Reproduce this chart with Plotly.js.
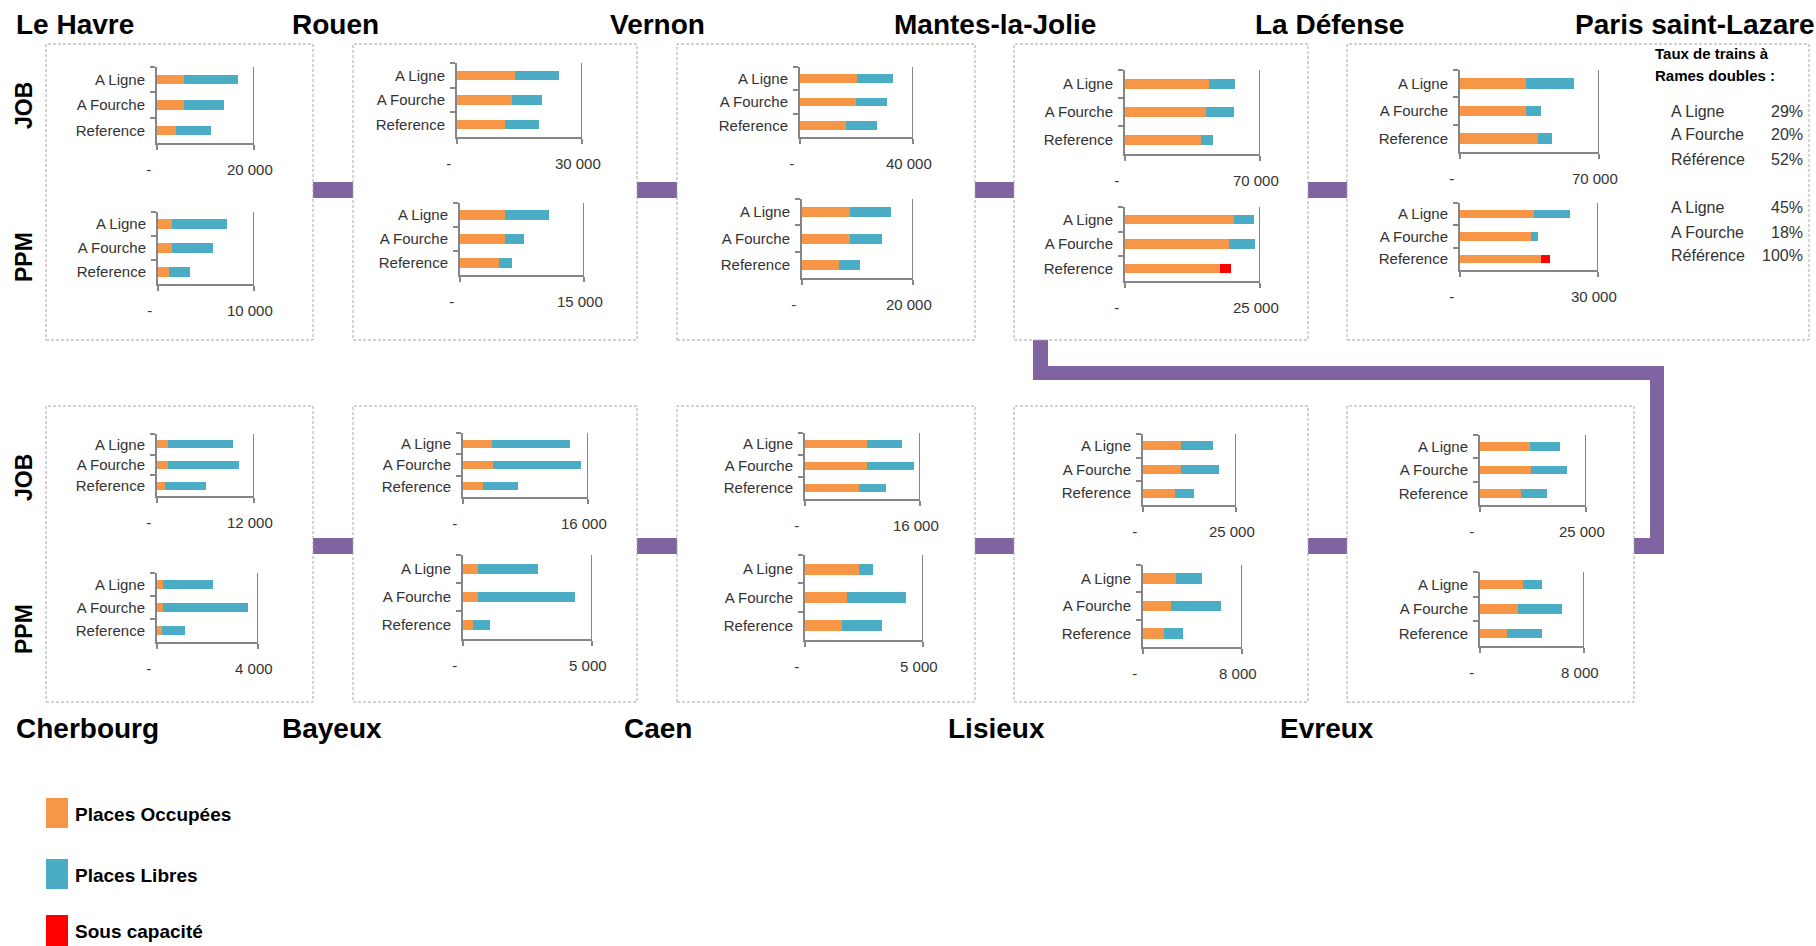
<!DOCTYPE html>
<html>
<head>
<meta charset="utf-8">
<script src="https://cdn.plot.ly/plotly-3.0.1.min.js"></script>
<style>
  html, body { margin: 0; padding: 0; background: #ffffff; }
  #chart { width: 1816px; height: 946px; }
</style>
</head>
<body>
<div id="chart"></div>
<script>
  const categories = ["A Ligne", "A Fourche", "Reference"];
  const topStations = ["Le Havre", "Rouen", "Vernon", "Mantes-la-Jolie", "La Défense", "Paris saint-Lazare"];
  const bottomStations = ["Cherbourg", "Bayeux", "Caen", "Lisieux", "Evreux"];
  const rowNames = ["JOB", "PPM"];

  // segments: top row left->right, then bottom row left->right
  const segments = [
    "Le Havre - Rouen", "Rouen - Vernon", "Vernon - Mantes", "Mantes - La Défense", "La Défense - Paris",
    "Cherbourg - Bayeux", "Bayeux - Caen", "Caen - Lisieux", "Lisieux - Evreux", "Evreux - Mantes"
  ];

  const jobMax = [20000, 30000, 40000, 70000, 70000, 12000, 16000, 16000, 25000, 25000];
  const ppmMax = [10000, 15000, 20000, 25000, 30000, 4000, 5000, 5000, 8000, 8000];

  // [A Ligne, A Fourche, Reference]
  const jobOccupied = [
    [5500, 5500, 3900], [13800, 13200, 11600], [20200, 19700, 16300], [43700, 42000, 39200], [33100, 33100, 39200],
    [1400, 1400, 1000], [3700, 3800, 2600], [8600, 8600, 7500], [10100, 10200, 8500], [11800, 12000, 9700]
  ];
  const jobFree = [
    [11300, 8400, 7200], [10700, 7200, 8100], [12800, 11200, 11000], [13500, 14500, 6400], [24100, 7800, 6900],
    [8000, 8800, 5100], [10000, 11300, 4500], [4900, 6500, 3800], [8600, 10200, 5300], [7000, 8500, 6100]
  ];
  const jobUnder = [
    [0, 0, 0], [0, 0, 0], [0, 0, 0], [0, 0, 0], [0, 0, 0],
    [0, 0, 0], [0, 0, 0], [0, 0, 0], [0, 0, 0], [0, 0, 0]
  ];
  const ppmOccupied = [
    [1500, 1500, 1100], [5500, 5400, 4700], [8700, 8700, 6700], [20200, 19300, 17500], [16100, 15400, 17500],
    [250, 250, 200], [590, 590, 400], [2300, 1800, 1550], [2700, 2300, 1700], [3300, 2900, 2100]
  ];
  const ppmFree = [
    [5700, 4200, 2200], [5300, 2400, 1600], [7400, 5800, 3800], [3700, 4800, 0], [7800, 1500, 0],
    [1950, 3350, 900], [2300, 3750, 650], [600, 2500, 1700], [2100, 4000, 1550], [1500, 3400, 2700]
  ];
  const ppmUnder = [
    [0, 0, 0], [0, 0, 0], [0, 0, 0], [0, 0, 2200], [0, 0, 2100],
    [0, 0, 0], [0, 0, 0], [0, 0, 0], [0, 0, 0], [0, 0, 0]
  ];

  const doubleRateTitle = ["Taux de trains à", "Rames doubles :"];
  const doubleRateLabels = ["A Ligne", "A Fourche", "Référence"];
  const doubleRateJob = ["29%", "20%", "52%"];
  const doubleRatePpm = ["45%", "18%", "100%"];

  const legendLabels = ["Places Occupées", "Places Libres", "Sous capacité"];

  const COLORS = {
    occupied: "#F79646",
    free: "#4BACC6",
    under: "#FF0000",
    axis: "#868686",
    text: "#333333",
    route: "#8064A2",
    box: "#A6A6A6"
  };

  const W = 1816;
  const H = 946;
  const fx = (x) => x / W;
  const fy = (y) => 1 - y / H;

  // pixel geometry of each small plot: [x of 0, x of max, top, bottom]
  const plotGeom = [
    { job: [157, 254, 67, 143], ppm: [158, 254, 212, 284] },
    { job: [457, 582, 63, 137], ppm: [460, 584, 203, 275] },
    { job: [800, 913, 67, 137], ppm: [802, 913, 199, 278] },
    { job: [1125, 1260, 70, 154], ppm: [1125, 1260, 207, 281] },
    { job: [1460, 1599, 70, 152], ppm: [1460, 1598, 203, 270] },
    { job: [157, 254, 434, 496], ppm: [157, 258, 573, 642] },
    { job: [463, 588, 433, 497], ppm: [463, 592, 555, 639] },
    { job: [805, 920, 433, 499], ppm: [805, 923, 555, 640] },
    { job: [1143, 1236, 434, 505], ppm: [1143, 1242, 565, 647] },
    { job: [1480, 1586, 435, 505], ppm: [1480, 1584, 572, 646] }
  ];

  const boxes = [
    [46, 44, 313, 340], [353, 44, 637, 340], [677, 44, 975, 340], [1014, 44, 1308, 340], [1347, 44, 1809, 340],
    [46, 406, 313, 702], [353, 406, 637, 702], [677, 406, 975, 702], [1014, 406, 1308, 702], [1347, 406, 1634, 702]
  ];

  const routeRects = [
    [313, 182, 353, 198], [637, 182, 677, 198], [975, 182, 1014, 198], [1308, 182, 1347, 198],
    [313, 538, 353, 554], [637, 538, 677, 554], [975, 538, 1014, 554], [1308, 538, 1347, 554],
    [1634, 538, 1664, 554],
    [1033, 340, 1048, 380], [1033, 366, 1664, 380], [1650, 366, 1664, 554]
  ];

  function fmtThousands(v) {
    return String(v).replace(/\B(?=(\d{3})+(?!\d))/g, " ");
  }

  const traces = [];
  const layout = {
    width: W,
    height: H,
    margin: { l: 0, r: 0, t: 0, b: 0 },
    paper_bgcolor: "#ffffff",
    plot_bgcolor: "rgba(0,0,0,0)",
    barmode: "stack",
    bargap: 0.62,
    showlegend: false,
    font: { family: "Liberation Sans, Arial, sans-serif", color: COLORS.text, size: 14 },
    shapes: [],
    annotations: []
  };

  let n = 0;
  segments.forEach((seg, s) => {
    [["job", jobMax, jobOccupied, jobFree, jobUnder], ["ppm", ppmMax, ppmOccupied, ppmFree, ppmUnder]].forEach(
      ([key, maxArr, occ, free, under]) => {
        n += 1;
        const suffix = n === 1 ? "" : String(n);
        const g = plotGeom[s][key];
        const xr = "x" + suffix;
        const yr = "y" + suffix;

        const series = [
          [occ[s], COLORS.occupied, legendLabels[0]],
          [under[s], COLORS.under, legendLabels[2]],
          [free[s], COLORS.free, legendLabels[1]]
        ];
        series.forEach(([vals, color, name]) => {
          traces.push({
            type: "bar",
            orientation: "h",
            x: vals,
            y: categories,
            xaxis: xr,
            yaxis: yr,
            name: name,
            marker: { color: color, line: { width: 0 } },
            hovertemplate: `${seg} ${key.toUpperCase()}<br>%{y}: %{x}<extra>${name}</extra>`
          });
        });

        const maxV = maxArr[s];
        layout["xaxis" + suffix] = {
          domain: [fx(g[0]), fx(g[1])],
          anchor: yr,
          range: [0, maxV],
          showgrid: false,
          zeroline: false,
          showline: true,
          linecolor: COLORS.axis,
          linewidth: 2,
          ticks: "outside",
          ticklen: 5,
          tickwidth: 2,
          tickcolor: COLORS.axis,
          tickmode: "array",
          tickvals: [0, maxV],
          ticktext: ["-\u00a0\u00a0\u00a0\u00a0", fmtThousands(maxV) + "\u00a0\u00a0"],
          ticklabelstandoff: 7,
          tickfont: { size: 15, color: COLORS.text },
          fixedrange: true
        };
        layout["yaxis" + suffix] = {
          domain: [fy(g[3]), fy(g[2])],
          anchor: xr,
          type: "category",
          categoryorder: "array",
          categoryarray: categories,
          autorange: "reversed",
          showgrid: false,
          zeroline: false,
          showline: true,
          linecolor: COLORS.axis,
          linewidth: 2,
          ticks: "outside",
          tickson: "boundaries",
          ticklen: 5,
          tickwidth: 2,
          tickcolor: COLORS.axis,
          ticklabelstandoff: 7,
          tickfont: { size: 15, color: COLORS.text },
          fixedrange: true
        };

        // vertical line at the axis maximum
        layout.shapes.push({
          type: "line",
          xref: xr,
          yref: yr + " domain",
          x0: maxV,
          x1: maxV,
          y0: 0,
          y1: 1,
          line: { color: COLORS.axis, width: 2 },
          layer: "above"
        });
      }
    );
  });

  routeRects.forEach(([x0, y0, x1, y1]) => {
    layout.shapes.push({
      type: "rect", xref: "paper", yref: "paper",
      x0: fx(x0), x1: fx(x1), y0: fy(y1), y1: fy(y0),
      fillcolor: COLORS.route, line: { width: 0 }, layer: "below"
    });
  });

  boxes.forEach(([x0, y0, x1, y1]) => {
    layout.shapes.push({
      type: "rect", xref: "paper", yref: "paper",
      x0: fx(x0), x1: fx(x1), y0: fy(y1), y1: fy(y0),
      fillcolor: "#ffffff",
      line: { color: COLORS.box, width: 1, dash: "3px,2px" },
      layer: "below"
    });
  });

  function addText(text, x, y, opts = {}) {
    layout.annotations.push({
      text: text,
      xref: "paper",
      yref: "paper",
      x: fx(x),
      y: fy(y),
      xanchor: opts.xanchor || "left",
      yanchor: "middle",
      showarrow: false,
      textangle: opts.angle || 0,
      font: {
        size: opts.size || 14,
        color: opts.color || "#000000",
        family: "Liberation Sans, Arial, sans-serif",
        weight: opts.bold ? 700 : 400
      }
    });
  }

  const topTitleX = [14, 290, 608, 892, 1253, 1573];
  const bottomTitleX = [14, 280, 622, 946, 1278];
  topStations.forEach((name, i) => addText(name, topTitleX[i], 25, { size: 28, bold: true }));
  bottomStations.forEach((name, i) => addText(name, bottomTitleX[i], 728, { size: 28, bold: true }));

  const rowLabelY = [106, 257, 478, 629];
  rowLabelY.forEach((y, i) => addText(rowNames[i % 2], 24, y, { size: 23, bold: true, angle: -90, xanchor: "center" }));

  doubleRateTitle.forEach((t, i) => addText(t, 1653, 54 + i * 21, { size: 15, bold: true }));
  const rateRowsY = [111, 135, 159, 207, 232, 256];
  doubleRateLabels.concat(doubleRateLabels).forEach((label, i) => {
    addText(label, 1669, rateRowsY[i], { size: 16, color: COLORS.text });
    const val = i < 3 ? doubleRateJob[i] : doubleRatePpm[i - 3];
    addText(val, 1805, rateRowsY[i], { size: 16, color: COLORS.text, xanchor: "right" });
  });

  const legendColors = [COLORS.occupied, COLORS.free, COLORS.under];
  const legendBoxes = [[798, 828], [859, 889], [915, 946]];
  legendLabels.forEach((label, i) => {
    const [y0, y1] = legendBoxes[i];
    layout.shapes.push({
      type: "rect", xref: "paper", yref: "paper",
      x0: fx(46), x1: fx(68), y0: fy(y1), y1: fy(y0),
      fillcolor: legendColors[i], line: { width: 0 }
    });
    addText(label, 73, (y0 + y1) / 2 + 1, { size: 19, bold: true });
  });

  Plotly.newPlot("chart", traces, layout, { displayModeBar: false, staticPlot: true });
</script>
</body>
</html>
